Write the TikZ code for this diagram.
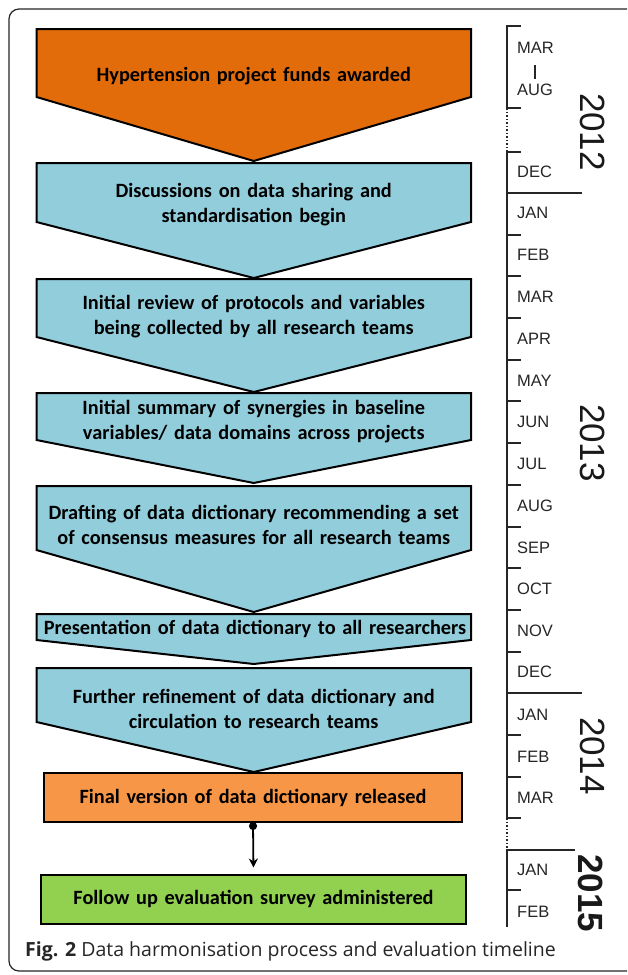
\documentclass[tikz,border=0pt]{standalone}
\usepackage{fontspec}
\setmainfont{Carlito}
\newfontfamily\arialf{Liberation Sans}
\newfontfamily\capf{Open Sans}
\usetikzlibrary{arrows.meta}
\definecolor{darkorange}{HTML}{E36C0A}
\definecolor{lightblue}{HTML}{92CDDC}
\definecolor{lightorange}{HTML}{F79646}
\definecolor{lightgreen}{HTML}{92D050}
\newcommand\pent[4]{\filldraw[pentshape, fill=#4] (36.5,#1) -- (471,#1) -- (471,#2) -- (253.75,#3) -- (36.5,#2) -- cycle;}
\newcommand\boxfont{\fontsize{20.3}{25}\selectfont\bfseries\spaceskip=0.33em plus 0.1em}
\begin{document}
\begin{tikzpicture}[x=1pt,y=-1pt,
  pentshape/.style={draw=black, line width=2pt, line join=miter},
  boxtext/.style={font=\boxfont, align=center, text=black, inner sep=0pt},
  rectbox/.style={draw=black, line width=2pt, minimum height=49pt, inner sep=0pt, font=\boxfont},
  month/.style={font=\arialf\fontsize{16.5}{18}\selectfont, anchor=west, inner sep=0pt, text=black!85},
  year/.style={font=\arialf\fontsize{35}{40}\selectfont, rotate=-90, inner sep=0pt, text=black!90},
  tl/.style={line width=1.5pt, draw=black!85},
]
\useasboundingbox (0,0) rectangle (627,975);
\fill[white] (0,0) rectangle (627,975);
\begin{scope}
\clip (0,0) rectangle (627,975);
\draw[line width=1.2pt, draw=black!85, rounded corners=10pt] (9,9) rectangle (650,971);
\end{scope}

% flow shapes
\pent{29}{97}{161}{darkorange}
\pent{163}{222}{278}{lightblue}
\pent{279}{337}{392}{lightblue}
\pent{393}{440}{483}{lightblue}
\pent{486}{550}{612}{lightblue}
\pent{614}{640}{664}{lightblue}
\pent{668}{722}{772}{lightblue}

\node[boxtext] (t1) at (253.75,76) {Hypertension project funds awarded};
\node[boxtext] (t2) at (253.75,204.5) {Discussions on data sharing and\\standardisation begin};
\node[boxtext] (t3) at (253.75,317) {Initial review of protocols and variables\\being collected by all research teams};
\node[boxtext] (t4) at (253.75,421.5) {Initial summary of synergies in baseline\\variables/ data domains across projects};
\node[boxtext] (t5) at (253.75,524.5) {Drafting of data dictionary recommending a set\\of consensus measures for all research teams};
\node[boxtext] (t6) at (255,629) {Presentation of data dictionary to all researchers};
\node[boxtext] (t7) at (253.75,708.5) {Further refinement of data dictionary and\\circulation to research teams};

\node[rectbox, fill=lightorange, minimum width=418pt] (b8) at (253,797.5) {Final version of data dictionary released};
\node[rectbox, fill=lightgreen, minimum width=425pt] (b9) at (253.5,899) {Follow up evaluation survey administered};
\draw[line width=1.8pt, {Circle[length=8pt,width=8pt]}-{Stealth[length=9pt,width=9pt]}, shorten >=6pt, shorten <=-1pt] (b8.south) -- (b9.north);

% timeline
\draw[tl] (507,26) -- (507,108);
\draw[tl, dotted] (507,108) -- (507,152);
\draw[tl] (507,152) -- (507,818);
\draw[tl, dotted] (507,818) -- (507,850);
\draw[tl] (507,850) -- (507,927);
\foreach \y in {26,108,152,235,276,318,360,401,443,485,527,568,610,652,735,777,818,890}
  \draw[tl] (506.25,\y) -- (521,\y);
\draw[tl] (506.25,193) -- (582,193);
\draw[tl] (506.25,693) -- (582,693);
\draw[tl] (506.25,850) -- (575,850);
\draw[line width=1.2pt, draw=black!85] (535,65) -- (535,79);

\foreach \m/\y in {MAR/48, AUG/90, DEC/172, JAN/213, FEB/255, MAR/297, APR/339, MAY/381, JUN/422, JUL/464, AUG/506, SEP/548, OCT/589, NOV/631, DEC/672, JAN/715, FEB/757, MAR/798, JAN/870, FEB/912}
  \node[month] at (517,\y) {\m};

\node[year] (y2012) at (593,132) {2012};
\node[year] (y2013) at (593,443) {2013};
\node[year] (y2014) at (593,756) {2014};
\node[year, font=\arialf\bfseries\fontsize{35}{40}\selectfont] (y2015) at (591,893) {2015};

\node[anchor=west, inner sep=0pt, font=\capf\fontsize{19.5}{22}\selectfont, text=black!85] (cap) at (25,951) {\textbf{Fig. 2} Data harmonisation process and evaluation timeline};
\end{tikzpicture}
\end{document}
